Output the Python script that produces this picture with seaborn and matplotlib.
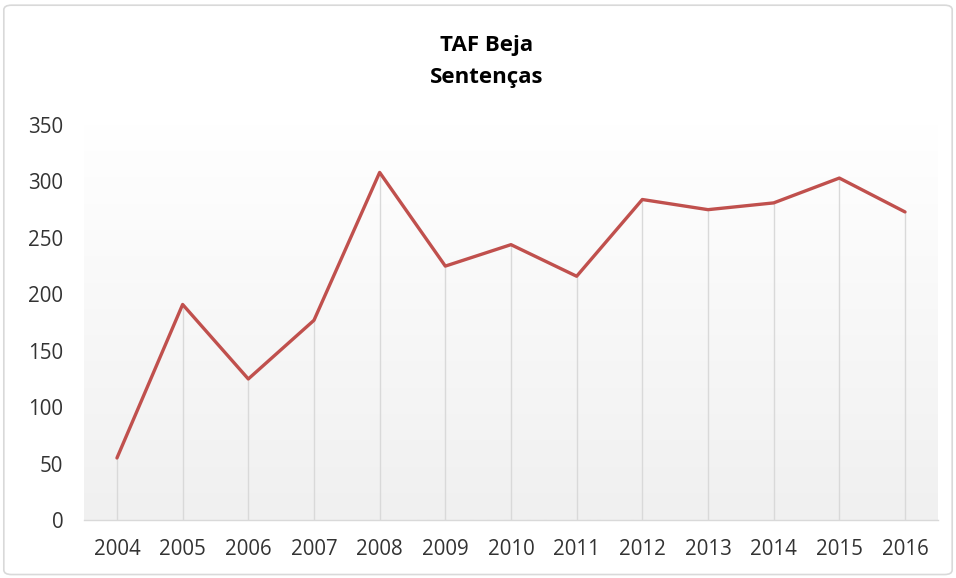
# TAF Beja - Sentenças line chart (Excel style)
import numpy as np
import pandas as pd
import matplotlib.pyplot as plt
import seaborn as sns
from matplotlib.patches import FancyBboxPatch

# Data
years = [2004, 2005, 2006, 2007, 2008, 2009, 2010, 2011, 2012, 2013, 2014, 2015, 2016]
sentencas = [55, 191, 125, 177, 308, 225, 244, 216, 284, 275, 281, 303, 273]
y_ticks = [0, 50, 100, 150, 200, 250, 300, 350]

df = pd.DataFrame({"ano": years, "sentencas": sentencas})

sns.set_style("white")
plt.rcParams["font.family"] = ["Open Sans", "DejaVu Sans"]

fig = plt.figure(figsize=(9.56, 5.78), dpi=100)
ax = fig.add_axes([0.088, 0.1003, 0.893, 0.6834])

# Gradient background (white at top, light grey at bottom)
grad = np.linspace(1, 0, 256).reshape(-1, 1)
cmap = sns.blend_palette(["#ffffff", "#f0f0f0"], as_cmap=True)
ax.imshow(grad, aspect="auto", cmap=cmap.reversed(),
          extent=[years[0] - 0.5, years[-1] + 0.5, 0, 350], zorder=0)

# Drop lines from each point to the axis
ax.vlines(df["ano"], 0, df["sentencas"], color="#d9d9d9", linewidth=1, zorder=1)

sns.lineplot(data=df, x="ano", y="sentencas", color="#c0504d", linewidth=2.4,
             ax=ax, zorder=3)

ax.set_xlim(years[0] - 0.5, years[-1] + 0.5)
ax.set_ylim(0, 350)
ax.set_xticks(years)
ax.set_xticklabels([str(y) for y in years])
ax.set_yticks(y_ticks)
ax.tick_params(axis="both", labelsize=14.8, colors="#333333", length=0)
ax.tick_params(axis="x", pad=14)
ax.tick_params(axis="y", pad=15)
ax.set_xlabel("")
ax.set_ylabel("")

for spine in ["top", "right", "left"]:
    ax.spines[spine].set_visible(False)
ax.spines["bottom"].set_color("#d9d9d9")
ax.spines["bottom"].set_linewidth(1)

# Title
fig.text(0.509, 0.921, "TAF Beja", ha="center", va="center",
         fontsize=16, fontweight="bold", color="#000000")
fig.text(0.509, 0.866, "Sentenças", ha="center", va="center",
         fontsize=16, fontweight="bold", color="#000000")

# Chart border
border = FancyBboxPatch((0.004, 0.006), 0.992, 0.985,
                        boxstyle="round,pad=0,rounding_size=0.008",
                        transform=fig.transFigure, facecolor="none",
                        edgecolor="#d9d9d9", linewidth=1.2)
fig.patches.append(border)

fig.savefig("out.png", dpi=100)
